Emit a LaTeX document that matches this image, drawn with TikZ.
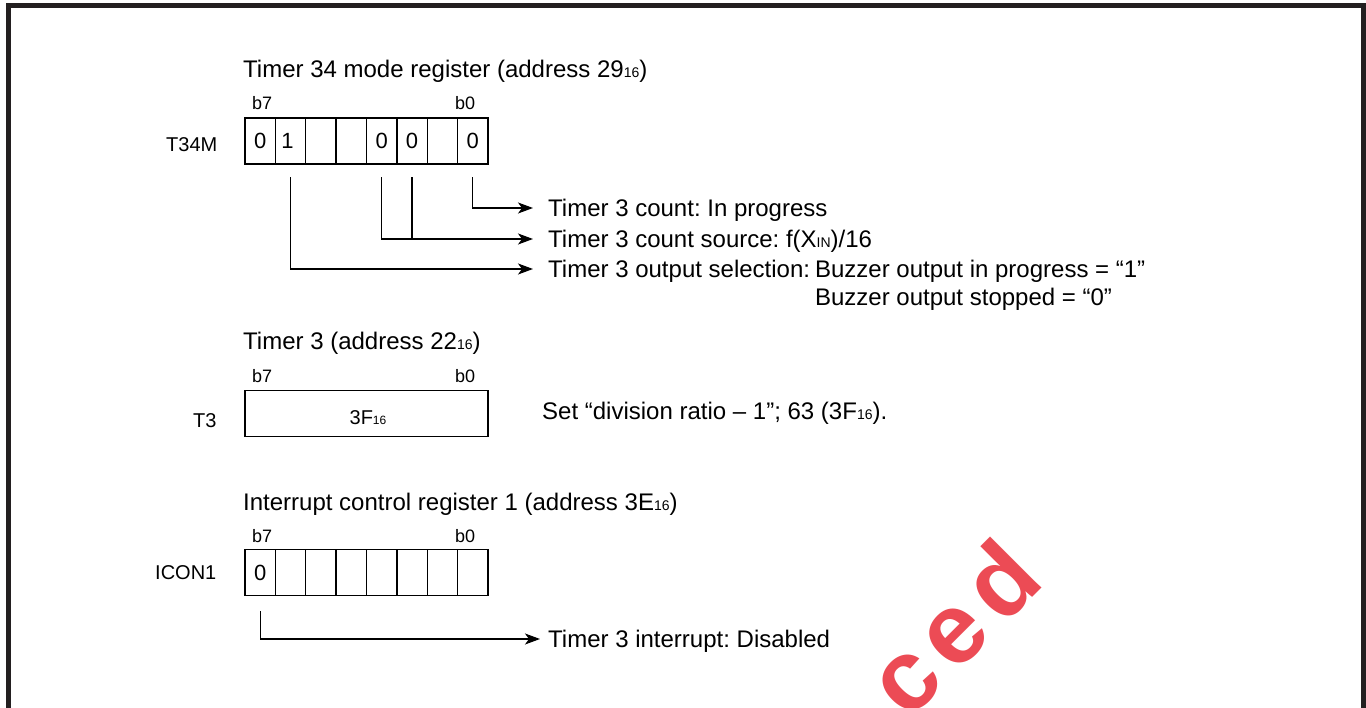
\documentclass[tikz,border=0pt]{standalone}
\usepackage{fontspec}
\setmainfont{Liberation Sans}
\usetikzlibrary{arrows.meta}
\definecolor{framecol}{RGB}{35,31,32}
\definecolor{wmred}{RGB}{236,75,85}
\newcommand\sbx[1]{{\fontsize{14}{14}\selectfont #1}}
\newcommand\sbs[1]{{\fontsize{12}{12}\selectfont #1}}
\begin{document}
\frenchspacing
\begin{tikzpicture}[x=1pt,y=-1pt,
  txt/.style={font=\fontsize{24}{28}\selectfont, inner sep=0, anchor=base west},
  lbl/.style={font=\fontsize{20}{24}\selectfont, inner sep=0, anchor=base west},
  bitlbl/.style={font=\fontsize{18}{22}\selectfont, inner sep=0, anchor=base west},
  cell/.style={draw, line width=1.4pt, minimum width=30.375pt, minimum height=46pt, inner sep=0, anchor=north west, font=\fontsize{22}{26}\selectfont},
  widebox/.style={draw, line width=1.4pt, minimum width=243pt, minimum height=46pt, inner sep=0, anchor=north west},
  conn/.style={line width=1.3pt, -{Stealth[length=15pt,width=11pt,inset=4pt]}},
  link/.style={line width=1.3pt},
]
\useasboundingbox (0,0) rectangle (1366,708);
\fill[white] (0,0) rectangle (1366,708);
\begin{scope}
  \clip (0,0) rectangle (1366,708);
  \draw[framecol, line width=5pt] (8.5,760) -- (8.5,5.5) -- (1363.5,5.5) -- (1363.5,760);
  \node[inner sep=0, anchor=base west, rotate=45, text=wmred,
        font=\bfseries\fontsize{100}{100}\selectfont\addfontfeature{LetterSpace=12}] (wm) at (908,722) {ced};
\end{scope}

% ---------- T34M ----------
\node[txt] (title1) at (243,78) {Timer 34 mode register (address 29\sbx{16})};
\node[bitlbl] (m-b7) at (252,110) {b7};
\node[bitlbl] (m-b0) at (455,110) {b0};
\node[lbl] (T34M) at (166,152) {T34M};
\foreach \i/\v in {0/0,1/\hspace{-6pt}1,2/,3/,4/0,5/0,6/,7/0}{
  \node[cell] (m\i) at ({244.3+30.375*\i},117.5) {\raisebox{-5pt}{\v}};
}
\coordinate (e1) at (533,208);
\coordinate (e2) at (533,239);
\coordinate (e3) at (533,269);
\draw[conn] ([yshift=-12.5pt]m7.south) |- (e1);
\draw[conn] ([yshift=-12.5pt]m4.south) |- (e2);
\draw[link] ([yshift=-12.5pt]m5.south) -- (m5.south |- e2);
\draw[conn] ([yshift=-12.5pt]m1.south) |- (e3);
\node[txt] (t1) at (548,216.5) {Timer 3 count: In progress};
\node[txt] (t2) at (548,247.5) {Timer 3 count source: f(X\sbx{IN})/16};
\node[txt] (t3) at (548,277.5) {\begin{tabular}[t]{@{}l@{\hspace{5pt}}l@{}}Timer 3 output selection: & Buzzer output in progress = “1”\\[0pt] & Buzzer output stopped = “0”\end{tabular}};

% ---------- T3 ----------
\node[txt] (title2) at (243,350) {Timer 3 (address 22\sbx{16})};
\node[bitlbl] (t-b7) at (252,383) {b7};
\node[bitlbl] (t-b0) at (455,383) {b0};
\node[lbl] (T3) at (193,428) {T3};
\node[widebox] (t3box) at (244.3,390) {};
\node[inner sep=0, anchor=base, font=\fontsize{20}{24}\selectfont] (t3val) at (368,425) {3F\sbs{16}};
\node[txt] (setnote) at (542,420) {Set “division ratio – 1”; 63 (3F\sbx{16}).};

% ---------- ICON1 ----------
\node[txt] (title3) at (243,510) {Interrupt control register 1 (address 3E\sbx{16})};
\node[bitlbl] (i-b7) at (252,542) {b7};
\node[bitlbl] (i-b0) at (455,542) {b0};
\node[lbl] (ICON1) at (155,579) {ICON1};
\foreach \i/\v in {0/0,1/,2/,3/,4/,5/,6/,7/}{
  \node[cell] (c\i) at ({244.3+30.375*\i},549) {\raisebox{-5pt}{\v}};
}
\coordinate (e4) at (540,639);
\draw[conn] ([yshift=-15pt]c0.south) |- (e4);
\node[txt] (t4) at (548,647.5) {Timer 3 interrupt: Disabled};
\end{tikzpicture}
\end{document}
